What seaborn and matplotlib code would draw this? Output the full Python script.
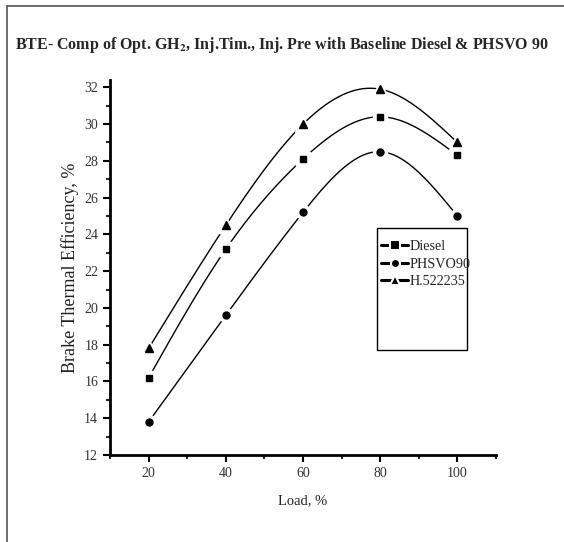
import numpy as np
import pandas as pd
import matplotlib
matplotlib.use("Agg")
import matplotlib.pyplot as plt
from matplotlib.lines import Line2D
from matplotlib.patches import Rectangle
import seaborn as sns

# 데이터
load = [20, 40, 60, 80, 100]
diesel = [16.2, 23.2, 28.1, 30.4, 28.3]
phsvo90 = [13.8, 19.6, 25.2, 28.5, 25.0]
h522235 = [17.8, 24.5, 30.0, 31.9, 29.0]

series_names = ["Diesel", "PHSVO90", "H.522235"]
series_values = [diesel, phsvo90, h522235]
markers = ["s", "o", "^"]
msizes = [5, 5, 6]


def natural_spline(x, y, n=200):
    """자연 3차 스플라인 (선 연결용)"""
    x = np.asarray(x, float)
    y = np.asarray(y, float)
    k = len(x)
    h = np.diff(x)
    A = np.zeros((k, k))
    b = np.zeros(k)
    A[0, 0] = A[-1, -1] = 1
    for i in range(1, k - 1):
        A[i, i - 1] = h[i - 1]
        A[i, i] = 2 * (h[i - 1] + h[i])
        A[i, i + 1] = h[i]
        b[i] = 6 * ((y[i + 1] - y[i]) / h[i] - (y[i] - y[i - 1]) / h[i - 1])
    m = np.linalg.solve(A, b)
    xs = np.linspace(x[0], x[-1], n)
    idx = np.clip(np.searchsorted(x, xs) - 1, 0, k - 2)
    t = xs - x[idx]
    hi = h[idx]
    a = (m[idx + 1] - m[idx]) / (6 * hi)
    bb = m[idx] / 2
    c = (y[idx + 1] - y[idx]) / hi - hi * (2 * m[idx] + m[idx + 1]) / 6
    ys = y[idx] + c * t + bb * t ** 2 + a * t ** 3
    return xs, ys


sns.set_style("ticks")
plt.rcParams["font.family"] = ["Liberation Serif", "DejaVu Serif"]
plt.rcParams["mathtext.fontset"] = "stix"

fig = plt.figure(figsize=(5.64, 5.42), dpi=100)
ax = fig.add_axes([110 / 564, 1 - 455 / 542, 386 / 564, 375 / 542])

for name, vals, mk, ms in zip(series_names, series_values, markers, msizes):
    xs, ys = natural_spline(load, vals)
    sns.lineplot(x=xs, y=ys, ax=ax, color="black", lw=1.0, sort=False)
    # 마커 주변 흰색 간격
    ax.plot(load, vals, ls="none", marker=mk, ms=ms + 5, color="white", zorder=3)
    ax.plot(load, vals, ls="none", marker=mk, ms=ms, color="black", zorder=4)

ax.set_xlim(10, 110)
ax.set_ylim(12, 32.4)
ax.set_xticks([20, 40, 60, 80, 100])
ax.set_xticks([10, 30, 50, 70, 90, 110], minor=True)
ax.set_yticks(range(12, 33, 2))
ax.set_yticks(range(13, 33, 2), minor=True)
ax.tick_params(axis="both", which="major", direction="out", length=5, width=1.5,
               labelsize=10, colors="black", labelcolor="#333333")
ax.tick_params(axis="both", which="minor", direction="out", length=3, width=1.5)
for s in ["left", "bottom"]:
    ax.spines[s].set_linewidth(2)
    ax.spines[s].set_color("black")
ax.spines["top"].set_visible(False)
ax.spines["right"].set_visible(False)

ax.set_xlabel("Load, %", fontsize=10.5, labelpad=10, color="#222222")
ax.set_ylabel("Brake Thermal Efficiency, %", fontsize=13, labelpad=4, color="#222222")

# 범례
handles = [Line2D([], [], color="black", lw=2.2, marker=mk, ms=ms + 1.5,
                  mec="white", mew=1.5, mfc="black")
           for mk, ms in zip(markers, msizes)]
leg = ax.legend(handles, series_names, loc="upper left",
                bbox_to_anchor=((377 - 110) / 386, (455 - 236) / 375),
                frameon=False, fontsize=10.2, handlelength=1.9, handletextpad=0.1,
                labelspacing=0.3, borderaxespad=0, borderpad=0.3)
ax.add_patch(Rectangle(((377 - 110) / 386, (455 - 350) / 375),
                       90 / 386, 122 / 375, transform=ax.transAxes,
                       fill=False, ec="black", lw=1, zorder=5))

fig.text(0.5, 1 - 45 / 542,
         r"BTE- Comp of Opt. GH$_{\mathbf{2}}$, Inj.Tim., Inj. Pre with Baseline Diesel & PHSVO 90",
         ha="center", va="center", fontsize=11.5, fontweight="bold")

# 그림 테두리
fig.add_artist(Line2D([7 / 564, 7 / 564], [0, 1 - 6 / 542], color="#555555", lw=1.2,
                      transform=fig.transFigure))
fig.add_artist(Line2D([7 / 564, 1], [1 - 6 / 542, 1 - 6 / 542], color="#555555", lw=1.2,
                      transform=fig.transFigure))

fig.savefig("out.png", dpi=100, facecolor="white")
